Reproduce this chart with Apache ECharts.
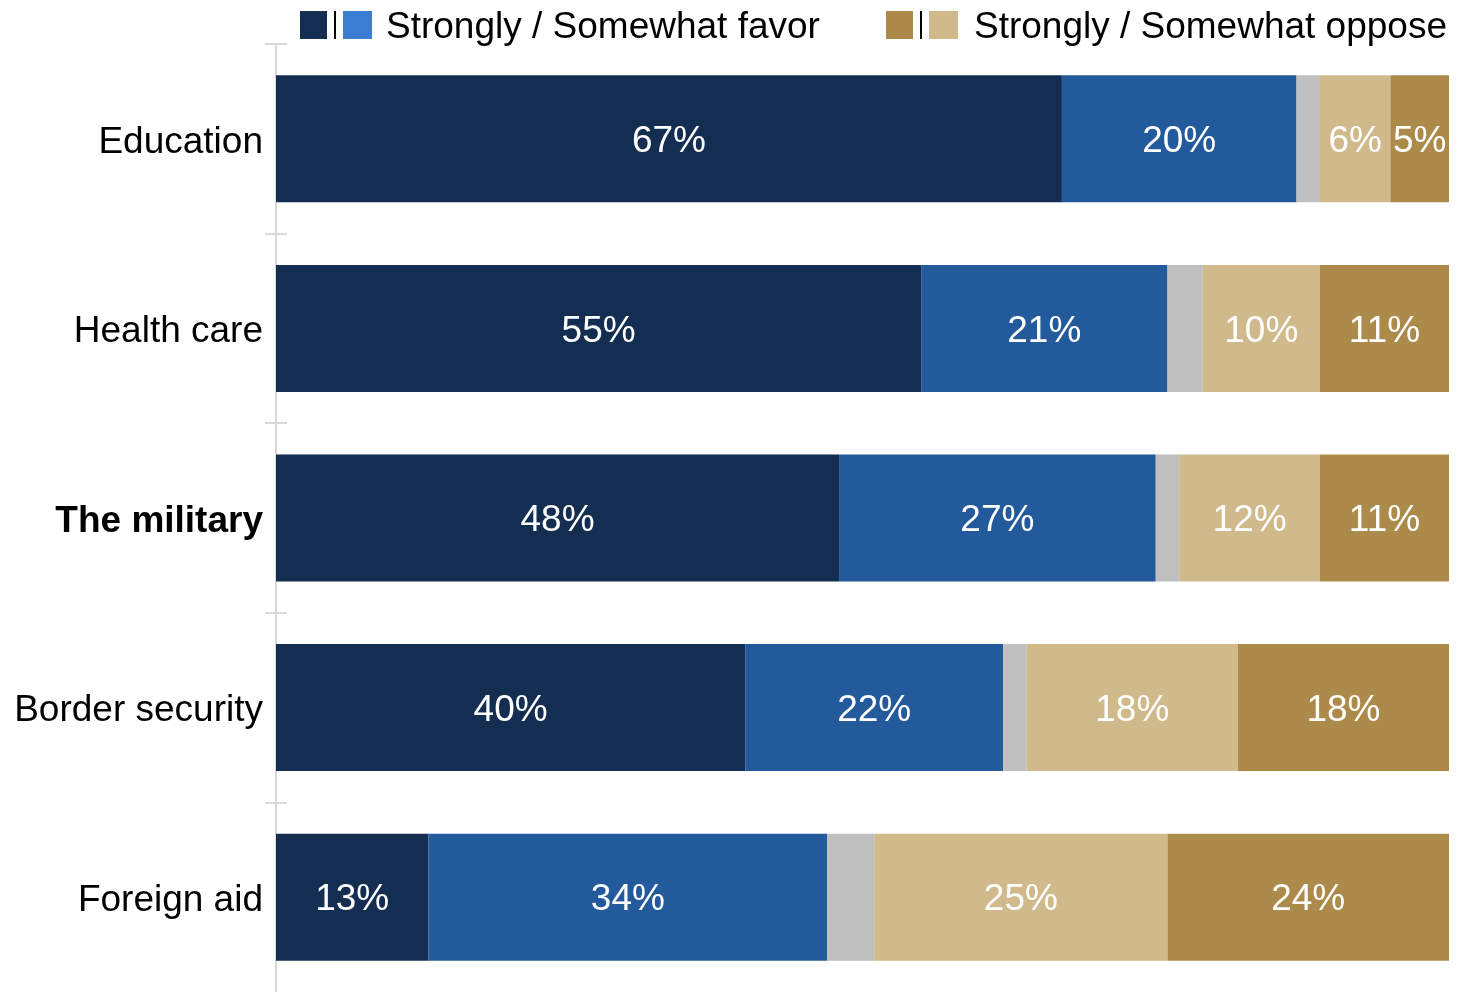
<!DOCTYPE html>
<html>
<head>
<meta charset="utf-8">
<script src="https://cdn.jsdelivr.net/npm/echarts@6/dist/echarts.min.js"></script>
<style>
html,body{margin:0;padding:0;background:#fff;}
#chart{width:1468px;height:992px;}
</style>
</head>
<body>
<div id="chart"></div>
<script>
var categories = ['Education', 'Health care', 'The military', 'Border security', 'Foreign aid'];
var strongFavor = [67, 55, 48, 40, 13];
var somewhatFavor = [20, 21, 27, 22, 34];
var neither = [2, 3, 2, 2, 4];
var somewhatOppose = [6, 10, 12, 18, 25];
var strongOppose = [5, 11, 11, 18, 24];
var legendFavor = 'Strongly / Somewhat favor';
var legendOppose = 'Strongly / Somewhat oppose';
var tickBoundaries = [0, 1, 2, 3, 4];

var FONT = '"Liberation Sans", Arial, sans-serif';
var FS = 37;
var colors = {
  navy: '#142E52', blue: '#235A9C', gray: '#BFBFBF', tan: '#D0BA8C', gold: '#AC8B4A', legendBlue: '#3A7DD2'
};

function seg(name, data, color, showLabel) {
  return {
    name: name, type: 'bar', stack: 'total', data: data, barWidth: 127,
    yAxisIndex: 0,
    itemStyle: { color: color },
    label: {
      show: showLabel, position: 'inside', color: '#fff', fontSize: FS, fontFamily: FONT,
      offset: [0, 3],
      formatter: function (p) { return p.value + '%'; }
    },
    emphasis: { disabled: true },
    animation: false
  };
}

function tickAxis(inside) {
  return {
    type: 'value', min: 0, max: categories.length, inverse: true, position: 'left', offset: 0,
    axisLine: { show: false },
    splitLine: { show: false },
    axisLabel: { show: false },
    axisTick: { show: true, inside: inside, length: 11, customValues: tickBoundaries,
      lineStyle: { color: '#D9D9D9', width: 2 } }
  };
}

var chart = echarts.init(document.getElementById('chart'), null, { renderer: 'canvas' });
chart.setOption({
  animation: false,
  grid: { left: 276, right: 19, top: 44, height: 950 },
  xAxis: { type: 'value', min: 0, max: 100, show: false },
  yAxis: [
    {
      type: 'category', data: categories, inverse: true, position: 'left',
      axisLine: { show: true, lineStyle: { color: '#D9D9D9', width: 2 } },
      axisTick: { show: false },
      axisLabel: {
        fontSize: FS, color: '#000', fontFamily: FONT, margin: 13, padding: [7, 0, 0, 0],
        formatter: function (v) { return v === 'The military' ? '{b|' + v + '}' : v; },
        rich: { b: { fontSize: FS, fontWeight: 'bold', color: '#000', fontFamily: FONT } }
      }
    },
    tickAxis(false),
    tickAxis(true)
  ],
  series: [
    seg('Strongly favor', strongFavor, colors.navy, true),
    seg('Somewhat favor', somewhatFavor, colors.blue, true),
    seg('Neither', neither, colors.gray, false),
    seg('Somewhat oppose', somewhatOppose, colors.tan, true),
    seg('Strongly oppose', strongOppose, colors.gold, true)
  ],
  graphic: [
    { type: 'rect', left: 300, top: 11, shape: { width: 27, height: 28 }, style: { fill: colors.navy } },
    { type: 'rect', left: 334, top: 11, shape: { width: 2, height: 28 }, style: { fill: '#000' } },
    { type: 'rect', left: 343, top: 11, shape: { width: 29, height: 28 }, style: { fill: colors.legendBlue } },
    { type: 'text', left: 386, top: 9, style: { text: legendFavor, fontSize: FS, fontFamily: FONT, fill: '#000' } },
    { type: 'rect', left: 886, top: 11, shape: { width: 27, height: 28 }, style: { fill: colors.gold } },
    { type: 'rect', left: 920, top: 11, shape: { width: 2, height: 28 }, style: { fill: '#000' } },
    { type: 'rect', left: 929, top: 11, shape: { width: 29, height: 28 }, style: { fill: colors.tan } },
    { type: 'text', right: 21, top: 9, style: { text: legendOppose, fontSize: FS, fontFamily: FONT, fill: '#000' } }
  ]
});
</script>
</body>
</html>
